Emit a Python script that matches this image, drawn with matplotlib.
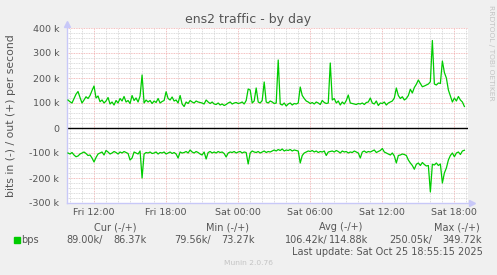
import matplotlib
matplotlib.use("Agg")
import matplotlib.pyplot as plt
import pandas as pd

# 10-minute samples, Fri 24 Oct 2025 09:50 -> Sat 25 Oct 18:50 (k bits/s)
out_k = [
    112,
    105, 100, 118, 135, 146, 122,   # Fri 10
    100, 112, 125, 118, 130, 150,   # Fri 11
    168, 120, 128, 105, 112, 100,   # Fri 12
    108, 122, 96, 104, 92, 110,     # Fri 13
    100, 118, 108, 126, 104, 110,   # Fri 14
    98, 130, 110, 120, 104, 128,    # Fri 15
    212, 100, 112, 104, 110, 98,    # Fri 16
    108, 102, 118, 100, 106, 110,   # Fri 17
    145, 118, 112, 124, 108, 112,   # Fri 18
    100, 130, 96, 86, 104, 98,      # Fri 19
    110, 104, 100, 108, 104, 102,   # Fri 20
    100, 96, 112, 104, 98, 104,     # Fri 21
    96, 94, 100, 92, 96, 90,        # Fri 22
    94, 100, 104, 96, 100, 102,     # Fri 23
    98, 100, 104, 96, 110, 156,     # Sat 00
    152, 100, 108, 160, 104, 100,   # Sat 01
    110, 184, 104, 100, 108, 104,   # Sat 02
    98, 100, 272, 96, 92, 100,      # Sat 03
    88, 96, 100, 92, 98, 96,        # Sat 04
    100, 164, 130, 118, 108, 104,   # Sat 05
    98, 102, 96, 104, 100, 94,      # Sat 06
    110, 102, 98, 100, 260, 112,    # Sat 07
    118, 100, 108, 92, 104, 96,     # Sat 08
    110, 132, 100, 98, 96, 94,      # Sat 09
    98, 96, 100, 94, 102, 104,      # Sat 10
    120, 100, 96, 108, 90, 100,     # Sat 11
    98, 104, 92, 100, 104, 108,     # Sat 12
    120, 160, 130, 118, 125, 112,   # Sat 13
    118, 130, 155, 140, 162, 175,   # Sat 14
    192, 178, 165, 168, 172, 176,   # Sat 15
    185, 350, 176, 172, 180, 178,   # Sat 16
    268, 222, 200, 152, 128, 104,   # Sat 17
    120, 108, 126, 112, 104, 86,    # Sat 18
]
in_k = [
    -100,
    -104, -98, -108, -115, -112, -104,
    -100, -96, -102, -110, -108, -120,
    -136, -118, -104, -100, -96, -108,
    -90, -96, -104, -100, -94, -98,
    -104, -96, -100, -94, -98, -102,
    -128, -120, -96, -100, -104, -92,
    -200, -104, -98, -100, -96, -102,
    -100, -96, -104, -98, -100, -96,
    -104, -100, -96, -102, -98, -104,
    -120, -96, -100, -98, -94, -100,
    -88, -96, -100, -94, -98, -104,
    -108, -96, -124, -98, -94, -100,
    -96, -100, -94, -98, -96, -102,
    -116, -100, -96, -98, -94, -100,
    -96, -94, -100, -96, -98, -144,
    -100, -92, -96, -98, -94, -100,
    -96, -92, -98, -94, -96, -92,
    -88, -92, -86, -90, -84, -92,
    -88, -90, -86, -92, -88, -90,
    -92, -140, -110, -100, -96, -92,
    -94, -90, -96, -92, -98, -94,
    -96, -92, -110, -96, -94, -92,
    -96, -90, -94, -100, -92, -96,
    -94, -100, -96, -98, -92, -96,
    -100, -120, -96, -92, -98, -94,
    -96, -92, -88, -98, -94, -90,
    -82, -96, -100, -104, -108, -100,
    -112, -140, -110, -108, -104, -106,
    -110, -128, -140, -150, -165, -145,
    -140, -150, -138, -146, -152, -150,
    -256, -145, -148, -140, -150, -144,
    -220, -180, -160, -128, -110, -100,
    -115, -100, -96, -106, -92, -89,
]
times = pd.date_range("2025-10-24 09:50", periods=len(out_k), freq="10min")

y_ticks = [-300, -200, -100, 0, 100, 200, 300, 400]
y_labels = ["-300 k", "-200 k", "-100 k", "0", "100 k", "200 k", "300 k", "400 k"]
x_ticks = pd.to_datetime(["2025-10-24 12:00", "2025-10-24 18:00", "2025-10-25 00:00",
                          "2025-10-25 06:00", "2025-10-25 12:00", "2025-10-25 18:00"])
x_labels = ["Fri 12:00", "Fri 18:00", "Sat 00:00", "Sat 06:00", "Sat 12:00", "Sat 18:00"]

legend_cols = ["Cur (-/+)", "Min (-/+)", "Avg (-/+)", "Max (-/+)"]
legend_in = ["89.00k/", "79.56k/", "106.42k/", "250.05k/"]
legend_out = ["86.37k", "73.27k", "114.88k", "349.72k"]

W, H = 497, 275
txt = "#555555"
axis_c = "#C8C8F8"


def fx(x):
    return x / W


def fy(y):
    return 1 - y / H


fig = plt.figure(figsize=(W / 100, H / 100), dpi=100, facecolor="#F0F0F0")
ax = fig.add_axes([fx(67), fy(203), (468 - 67) / W, (203 - 28) / H])
ax.set_facecolor("white")

ax.plot(times, out_k, color="#00CC00", lw=0.9, zorder=3)
ax.plot(times, in_k, color="#00CC00", lw=0.9, zorder=3)
ax.axhline(0, color="black", lw=1.0, zorder=2)

ax.set_ylim(-300, 400)
ax.set_xlim(pd.Timestamp("2025-10-24 09:45"), pd.Timestamp("2025-10-25 19:08"))

ax.set_yticks(y_ticks)
ax.set_yticklabels(y_labels)
ax.set_yticks(range(-300, 401, 20), minor=True)
ax.set_xticks(x_ticks)
ax.set_xticklabels(x_labels)
ax.set_xticks(pd.date_range("2025-10-24 10:00", "2025-10-25 19:00", freq="1h"), minor=True)

ax.grid(which="minor", color="#D0D0D0", lw=0.6, ls=(0, (1, 1)), zorder=0)
ax.grid(which="major", color="#F0A8A8", lw=0.6, ls=(0, (1, 1)), zorder=1)
ax.tick_params(which="both", length=0)
ax.tick_params(axis="y", pad=5.5, labelsize=6.8, labelcolor=txt)
ax.tick_params(axis="x", pad=3.5, labelsize=6.8, labelcolor=txt)

for s in ax.spines.values():
    s.set_visible(False)
# axis lines with arrow heads
ax.plot([0, 0], [0, 1.025], transform=ax.transAxes, color=axis_c, lw=1, clip_on=False)
ax.plot([0, 1.01], [0, 0], transform=ax.transAxes, color=axis_c, lw=1, clip_on=False)
ax.plot([0], [1.025], transform=ax.transAxes, marker="^", ms=4, color=axis_c, clip_on=False)
ax.plot([1.01], [0], transform=ax.transAxes, marker=">", ms=4, color=axis_c, clip_on=False)

fig.text(fx(248.5), fy(23), "ens2 traffic - by day", ha="center", va="baseline",
         fontsize=9, color=txt)
fig.text(fx(11), fy(115.5), "bits in (-) / out (+) per second", rotation=90,
         ha="center", va="center", fontsize=7.8, color=txt)
fig.text(fx(491), fy(5), "RRDTOOL / TOBI OETIKER", rotation=270, ha="center",
         va="top", fontsize=5.4, color="#C4C4C4")

# legend block
col_cx = [115, 227, 341, 457]
in_right = [103, 211, 328, 432]
out_right = [147, 255, 368, 482]
for i in range(4):
    fig.text(fx(col_cx[i]), fy(227), legend_cols[i], ha="center", va="center",
             fontsize=7, color=txt)
    fig.text(fx(in_right[i]), fy(240), legend_in[i], ha="right", va="center",
             fontsize=7, color=txt)
    fig.text(fx(out_right[i]), fy(240), legend_out[i], ha="right", va="center",
             fontsize=7, color=txt)
fig.patches.append(plt.Rectangle((fx(14), fy(243)), 6 / W, 6 / H, color="#00CC00",
                                 transform=fig.transFigure, figure=fig))
fig.text(fx(21), fy(240), "bps", ha="left", va="center", fontsize=7, color=txt)
fig.text(fx(483), fy(252), "Last update: Sat Oct 25 18:55:15 2025", ha="right",
         va="center", fontsize=7, color=txt)
fig.text(fx(248), fy(263), "Munin 2.0.76", ha="center", va="center", fontsize=5.4,
         color="#C4C4C4")

fig.savefig("out.png", dpi=100, facecolor=fig.get_facecolor())
